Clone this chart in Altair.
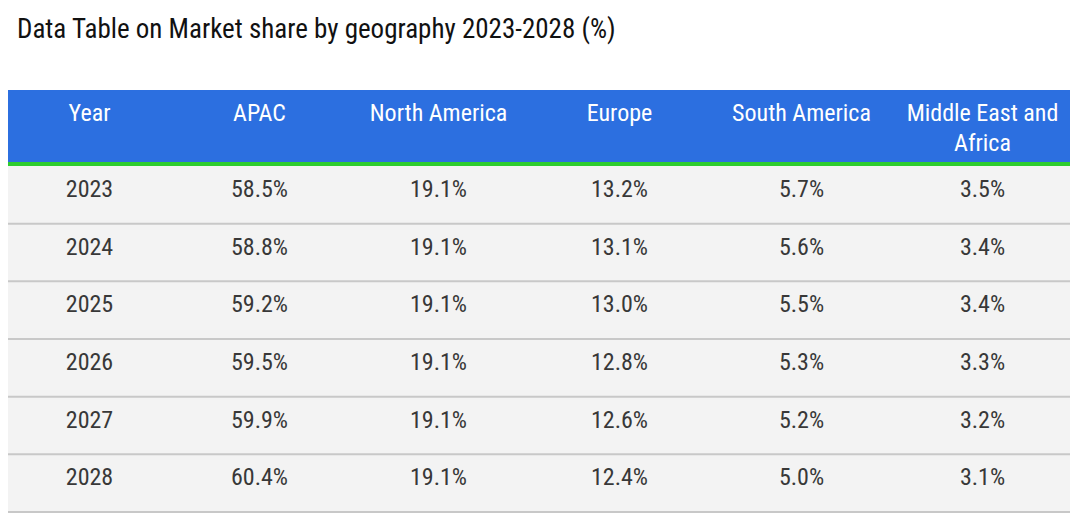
import altair as alt
import pandas as pd

# ---------------- data ----------------
TITLE = "Data Table on Market share by geography 2023-2028 (%)"
HEADERS = ["Year", "APAC", "North America", "Europe", "South America", "Middle East and\nAfrica"]
YEARS = ["2023", "2024", "2025", "2026", "2027", "2028"]
APAC = [58.5, 58.8, 59.2, 59.5, 59.9, 60.4]
NORTH_AMERICA = [19.1, 19.1, 19.1, 19.1, 19.1, 19.1]
EUROPE = [13.2, 13.1, 13.0, 12.8, 12.6, 12.4]
SOUTH_AMERICA = [5.7, 5.6, 5.5, 5.3, 5.2, 5.0]
MEA = [3.5, 3.4, 3.4, 3.3, 3.2, 3.1]

# ---------------- layout (column widths of the table) ----------------
COL_WIDTHS = [167, 173, 185, 177, 187, 175]
FONT = "Roboto Condensed, Liberation Sans Narrow, Arial Narrow, DejaVu Sans Condensed, sans-serif"
BLUE = "#2C6FE0"
GREEN = "#2ECC2E"
ROW_BG = "#F3F3F3"
SEP = "#C8C8C8"
TXT = "#383838"

centers = []
acc = 0
for w in COL_WIDTHS:
    centers.append(acc + w / 2)
    acc += w
TOTAL = acc

series = [APAC, NORTH_AMERICA, EUROPE, SOUTH_AMERICA, MEA]
cells = []
for r, yr in enumerate(YEARS):
    cells.append({"Year": yr, "cx": centers[0], "label": yr})
    for c, s in enumerate(series):
        cells.append({"Year": yr, "cx": centers[c + 1], "label": f"{s[r]:.1f}%"})
cells_df = pd.DataFrame(cells)
head_df = pd.DataFrame({"cx": centers, "label": HEADERS})
rows_df = pd.DataFrame({"Year": YEARS})
title_df = pd.DataFrame({"t": [TITLE]})

xscale = alt.Scale(domain=[0, TOTAL], range=[-2, 1062])
yscale = alt.Scale(domain=YEARS, range=[158, 504], paddingInner=0, paddingOuter=0)

title = alt.Chart(title_df).mark_text(
    align="left", baseline="alphabetic", font=FONT, fontSize=27, color="#111111"
).encode(text="t:N", x=alt.value(9), y=alt.value(30))

header_bg = alt.Chart(title_df).mark_rect(color=BLUE).encode(
    x=alt.value(-2), x2=alt.value(1062), y=alt.value(82), y2=alt.value(154)
)
green = alt.Chart(title_df).mark_rect(color=GREEN).encode(
    x=alt.value(-2), x2=alt.value(1062), y=alt.value(154), y2=alt.value(158)
)

row_bg = alt.Chart(rows_df).mark_rect(color=ROW_BG).encode(
    y=alt.Y("Year:O", scale=yscale, axis=None),
    x=alt.value(-2), x2=alt.value(1062),
)
seps = alt.Chart(rows_df).mark_rule(color=SEP, strokeWidth=2).encode(
    y=alt.Y("Year:O", scale=yscale, axis=None, bandPosition=1),
    x=alt.value(-2), x2=alt.value(1062),
)

head_text = alt.Chart(head_df).mark_text(
    align="center", baseline="alphabetic", font=FONT, fontSize=24,
    color="white", lineBreak="\n", lineHeight=30
).encode(
    x=alt.X("cx:Q", scale=xscale, axis=None),
    y=alt.value(113),
    text="label:N",
)

cell_text = alt.Chart(cells_df).mark_text(
    align="center", baseline="middle", font=FONT, fontSize=24, color=TXT, dy=-5
).encode(
    x=alt.X("cx:Q", scale=xscale, axis=None),
    y=alt.Y("Year:O", scale=yscale, axis=None),
    text="label:N",
)

chart = alt.layer(
    row_bg, seps, header_bg, green, head_text, cell_text, title
).properties(
    width=1064, height=505, padding=0, autosize="none", background="white"
).configure_view(stroke=None)

chart.save("out.html", embed_options={"renderer": "svg", "actions": False})
